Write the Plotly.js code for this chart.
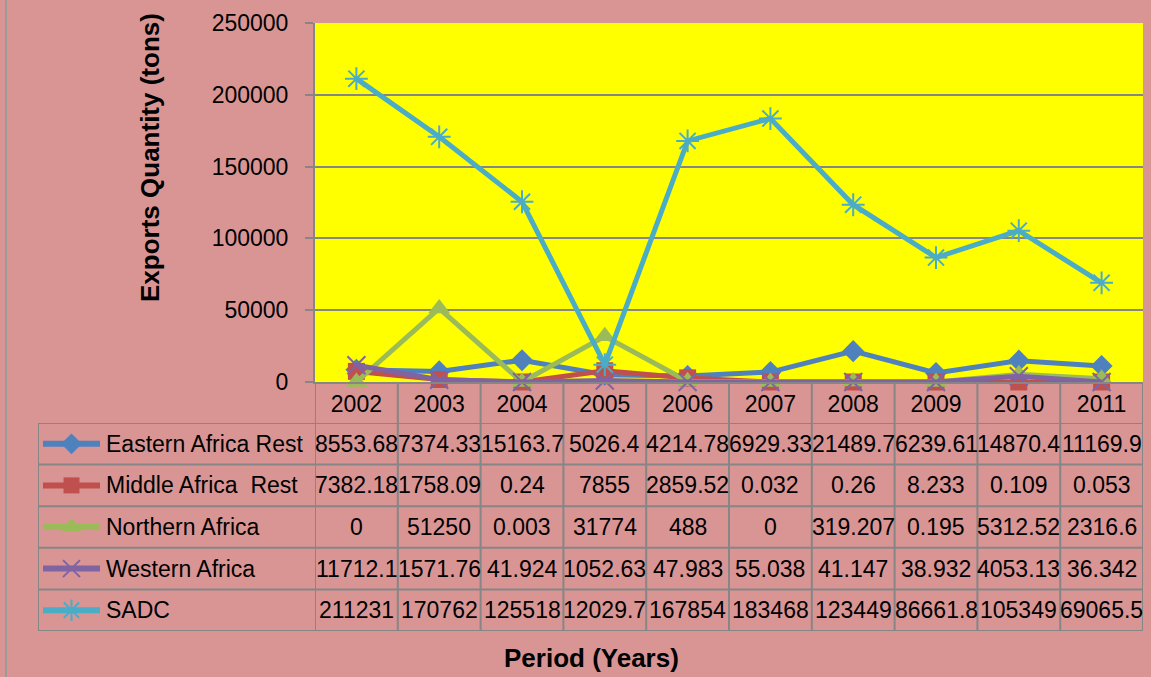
<!DOCTYPE html>
<html>
<head>
<meta charset="utf-8">
<script src="https://cdn.plot.ly/plotly-3.0.1.min.js"></script>
<style>html,body{margin:0;padding:0;background:#D99594;}#chart{width:1151px;height:677px;}</style>
</head>
<body>
<div id="chart"></div>
<script>
// ---- data ----
var years = ['2002','2003','2004','2005','2006','2007','2008','2009','2010','2011'];
var seriesNames = ['Eastern Africa Rest', 'Middle Africa\u00a0 Rest', 'Northern Africa', 'Western Africa', 'SADC'];
var easternAfricaRest = [8553.68, 7374.33, 15163.7, 5026.4, 4214.78, 6929.33, 21489.7, 6239.61, 14870.4, 11169.9];
var middleAfricaRest  = [7382.18, 1758.09, 0.24, 7855, 2859.52, 0.032, 0.26, 8.233, 0.109, 0.053];
var northernAfrica    = [0, 51250, 0.003, 31774, 488, 0, 319.207, 0.195, 5312.52, 2316.6];
var westernAfrica     = [11712.1, 1571.76, 41.924, 1052.63, 47.983, 55.038, 41.147, 38.932, 4053.13, 36.342];
var sadc              = [211231, 170762, 125518, 12029.7, 167854, 183468, 123449, 86661.8, 105349, 69065.5];
var yTitle = 'Exports Quantity (tons)';
var xTitle = 'Period (Years)';

// ---- styles ----
var W = 1151, H = 677;
var FONT = 'Liberation Sans, Arial, sans-serif';
var GRID = '#868686';
var allSeries = [easternAfricaRest, middleAfricaRest, northernAfrica, westernAfrica, sadc];
var styles = [
  {color:'#4F81BD', symbol:'diamond', size:17, open:false},
  {color:'#C0504D', symbol:'square', size:17, open:false},
  {color:'#9BBB59', symbol:'triangle-up', size:19, open:false},
  {color:'#8064A2', symbol:'x-thin-open', size:18, open:true},
  {color:'#4BACC6', symbol:'asterisk-open', size:19, open:true}
];
function px(x){return x/W;}
function py(y){return 1 - y/H;}

var traces = [];
allSeries.forEach(function(vals, i){
  var s = styles[i];
  var marker = {symbol:s.symbol, size:s.size, color:s.color, line:{color:s.color, width:s.open ? 2 : 0}};
  traces.push({
    type:'scatter', mode:'lines+markers', x:years, y:vals, name:seriesNames[i],
    line:{color:s.color, width:5}, marker:marker, cliponaxis:false, showlegend:false,
    xaxis:'x', yaxis:'y'
  });
});
// legend keys in the data table (table axis x2/y2)
allSeries.forEach(function(vals, i){
  var s = styles[i];
  traces.push({
    type:'scatter', mode:'lines', x:[43, 100], y:[i+0.5, i+0.5],
    line:{color:s.color, width:6}, cliponaxis:false, showlegend:false,
    hoverinfo:'skip', xaxis:'x2', yaxis:'y2'
  });
  traces.push({
    type:'scatter', mode:'markers', x:[71.5], y:[i+0.5],
    marker:{symbol:s.symbol, size:s.size-1, color:s.color, line:{color:s.color, width:s.open ? 2 : 0}},
    cliponaxis:false, showlegend:false, hoverinfo:'skip', xaxis:'x2', yaxis:'y2'
  });
});

var shapes = [];
// yellow plot background
shapes.push({type:'rect', xref:'x domain', yref:'y domain', x0:0, x1:1, y0:0, y1:1,
  fillcolor:'#FFFF00', line:{width:0}, layer:'below'});
// chart frame left edge
shapes.push({type:'line', xref:'paper', yref:'paper', x0:px(6), x1:px(6), y0:0, y1:1,
  line:{color:'#9a9a9a', width:2}});
// table horizontal lines
for (var r = 0; r <= seriesNames.length; r++) {
  shapes.push({type:'line', xref:'paper', yref:'y2', x0:px(38), x1:px(1143), y0:r, y1:r,
    line:{color:GRID, width:2}});
}
// table vertical lines (column boundaries on the category axis)
for (var c = 0; c <= years.length; c++) {
  shapes.push({type:'line', xref:'x', yref:'paper', x0:c-0.5, x1:c-0.5, y0:py(631), y1:py(382),
    line:{color:GRID, width:2}});
}
// table left edge
shapes.push({type:'line', xref:'x2', yref:'y2', x0:38, x1:38, y0:0, y1:seriesNames.length,
  line:{color:GRID, width:2}});

var annotations = [];
seriesNames.forEach(function(n, i){
  annotations.push({xref:'x2', yref:'y2', x:104, y:i+0.5, text:n, showarrow:false,
    xanchor:'left', yanchor:'middle', font:{family:FONT, size:23, color:'#000'}});
  allSeries[i].forEach(function(v, j){
    annotations.push({xref:'x', yref:'y2', x:j, y:i+0.5, text:String(v), showarrow:false,
      xanchor:'center', yanchor:'middle', font:{family:FONT, size:23, color:'#000'}});
  });
});
annotations.push({xref:'paper', yref:'paper', x:px(150), y:py(158), text:'<b>'+yTitle+'</b>',
  textangle:-90, showarrow:false, xanchor:'center', yanchor:'middle',
  font:{family:FONT, size:26, color:'#000'}});
annotations.push({xref:'paper', yref:'paper', x:px(591), y:py(658), text:'<b>'+xTitle+'</b>',
  showarrow:false, xanchor:'center', yanchor:'middle',
  font:{family:FONT, size:26, color:'#000'}});

var layout = {
  width:W, height:H,
  margin:{l:0, r:0, t:0, b:0, pad:0},
  paper_bgcolor:'#D99594', plot_bgcolor:'rgba(0,0,0,0)',
  font:{family:FONT, size:23, color:'#000'},
  showlegend:false,
  xaxis:{domain:[px(315), px(1143)], type:'category', categoryorder:'array', categoryarray:years,
    range:[-0.5, years.length-0.5], autorange:false, anchor:'y',
    showgrid:false, zeroline:false, showline:true, linecolor:GRID, linewidth:2,
    ticks:'', tickfont:{family:FONT, size:23, color:'#000'}, ticklabelstandoff:0, fixedrange:true},
  yaxis:{domain:[py(382), py(23)], range:[0, 250000], autorange:false, dtick:50000, tickformat:'d', anchor:'x',
    showgrid:true, gridcolor:GRID, gridwidth:2, zeroline:false,
    showline:true, linecolor:GRID, linewidth:2, ticks:'outside', ticklen:8, tickwidth:2, tickcolor:GRID,
    tickfont:{family:FONT, size:23, color:'#000'}, ticklabelstandoff:12, fixedrange:true},
  xaxis2:{domain:[px(38), px(315)], range:[38, 315], autorange:false, anchor:'y2', visible:false, fixedrange:true},
  yaxis2:{domain:[py(631), py(423)], range:[seriesNames.length, 0], autorange:false, anchor:'x2', visible:false, fixedrange:true},
  shapes:shapes,
  annotations:annotations
};

Plotly.newPlot('chart', traces, layout, {displayModeBar:false, staticPlot:true});
</script>
</body>
</html>
